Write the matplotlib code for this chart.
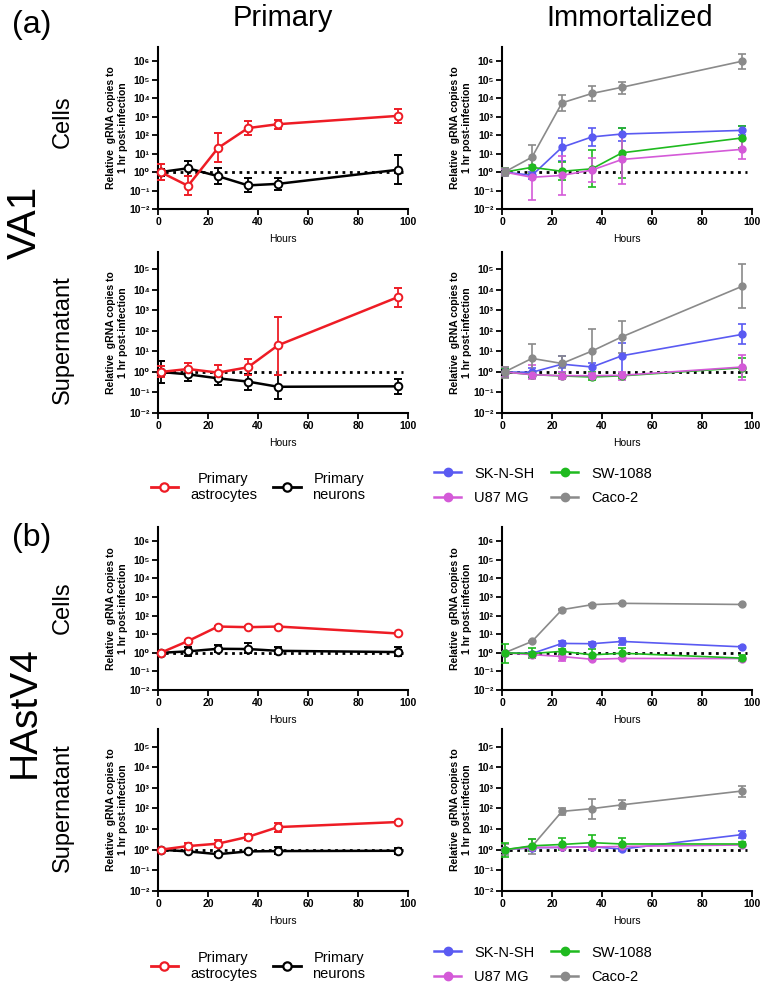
import matplotlib
matplotlib.use("Agg")
import matplotlib.pyplot as plt
from matplotlib.lines import Line2D
from matplotlib.ticker import NullLocator

plt.rcParams['font.family'] = ['Liberation Sans', 'DejaVu Sans']

# time points (hours post-infection)
hours = [1, 12, 24, 36, 48, 96]

# ---- VA1, cells, primary
va1_cell_astro = [1.0, 0.18, 20, 240, 390, 1100]
va1_cell_astro_lo = [0.35, 0.055, 3.3, 100, 220, 450]
va1_cell_astro_hi = [2.7, 0.6, 130, 550, 700, 2700]
va1_cell_neuro = [1.0, 1.6, 0.6, 0.19, 0.23, 1.33]
va1_cell_neuro_lo = [0.6, 0.6, 0.23, 0.08, 0.11, 0.22]
va1_cell_neuro_hi = [1.5, 4.2, 1.7, 0.5, 0.48, 8.5]

# ---- VA1, cells, immortalized
va1_cell_sknsh = [1.0, 0.66, 22, 80, 115, 180]
va1_cell_sknsh_lo = [0.75, 0.4, 4, 25, 50, 100]
va1_cell_sknsh_hi = [1.4, 1.0, 70, 250, 240, 330]
va1_cell_sw = [1.0, 1.8, 1.1, 1.5, 11, 70]
va1_cell_sw_lo = [0.7, 0.8, 0.35, 0.16, 0.45, 20]
va1_cell_sw_hi = [1.6, 5, 3.5, 15, 250, 330]
va1_cell_u87 = [1.0, 0.52, 0.66, 1.28, 4.8, 17]
va1_cell_u87_lo = [0.7, 0.03, 0.06, 0.28, 0.22, 5]
va1_cell_u87_hi = [1.4, 2.5, 7, 6, 100, 60]
va1_cell_caco = [1.0, 6.4, 5600, 18000, 39000, 1e6]
va1_cell_caco_lo = [0.6, 1.5, 2000, 7000, 17000, 4e5]
va1_cell_caco_hi = [1.7, 30, 14000, 45000, 75000, 2.5e6]

# ---- VA1, supernatant, primary
va1_sup_astro = [1.0, 1.4, 0.93, 1.7, 20, 4500]
va1_sup_astro_lo = [0.55, 0.8, 0.45, 0.7, 0.7, 1500]
va1_sup_astro_hi = [2.0, 2.7, 2.3, 4.2, 480, 13000]
va1_sup_neuro = [1.0, 0.77, 0.49, 0.34, 0.19, 0.2]
va1_sup_neuro_lo = [0.3, 0.37, 0.22, 0.13, 0.05, 0.08]
va1_sup_neuro_hi = [3.5, 1.5, 1.0, 0.8, 0.7, 0.45]

# ---- VA1, supernatant, immortalized
va1_sup_sknsh = [1.0, 0.97, 2.4, 1.75, 6.2, 68]
va1_sup_sknsh_lo = [0.6, 0.5, 1.0, 0.7, 0.8, 22]
va1_sup_sknsh_hi = [1.6, 1.5, 6, 2.8, 25, 230]
va1_sup_sw = [1.0, 0.74, 0.64, 0.57, 0.65, 1.6]
va1_sup_sw_lo = [0.6, 0.55, 0.5, 0.4, 0.5, 0.55]
va1_sup_sw_hi = [1.6, 1.0, 0.85, 1.0, 0.85, 5]
va1_sup_u87 = [1.0, 0.74, 0.66, 0.66, 0.69, 1.75]
va1_sup_u87_lo = [0.6, 0.45, 0.45, 0.5, 0.42, 0.42]
va1_sup_u87_hi = [1.8, 2.3, 1.0, 0.9, 1.0, 6.5]
va1_sup_caco = [1.0, 4.6, 2.6, 10.5, 52, 15000]
va1_sup_caco_lo = [0.5, 1.0, 1.5, 0.6, 8, 1300]
va1_sup_caco_hi = [1.8, 24, 6, 120, 320, 180000]

# ---- HAstV4, cells, primary
hv4_cell_astro = [1.0, 4.3, 26, 24, 26, 11]
hv4_cell_astro_lo = [0.9, 3.8, 23, 21, 23, 10]
hv4_cell_astro_hi = [1.1, 4.9, 29, 27, 29, 12]
hv4_cell_neuro = [1.0, 1.2, 1.65, 1.6, 1.28, 1.1]
hv4_cell_neuro_lo = [0.9, 0.7, 1.1, 1.0, 0.9, 0.7]
hv4_cell_neuro_hi = [1.1, 2.0, 2.5, 3.2, 2.0, 2.0]

# ---- HAstV4, cells, immortalized
hv4_cell_sknsh = [1.0, 0.92, 3.2, 3.1, 4.1, 2.1]
hv4_cell_sknsh_lo = [0.9, 0.8, 2.4, 2.5, 2.8, 1.9]
hv4_cell_sknsh_hi = [1.1, 1.1, 4.6, 3.8, 6, 2.4]
hv4_cell_sw = [1.0, 0.92, 1.2, 0.78, 0.95, 0.52]
hv4_cell_sw_lo = [0.3, 0.55, 0.8, 0.45, 0.55, 0.35]
hv4_cell_sw_hi = [3.0, 1.9, 1.7, 1.7, 1.9, 0.8]
hv4_cell_u87 = [1.0, 0.8, 0.63, 0.45, 0.5, 0.49]
hv4_cell_u87_lo = [0.9, 0.7, 0.37, 0.4, 0.45, 0.43]
hv4_cell_u87_hi = [1.1, 0.9, 0.85, 0.5, 0.56, 0.55]
hv4_cell_caco = [1.0, 4.1, 210, 390, 460, 400]
hv4_cell_caco_lo = [0.92, 3.8, 195, 360, 425, 370]
hv4_cell_caco_hi = [1.08, 4.4, 225, 420, 495, 430]

# ---- HAstV4, supernatant, primary
hv4_sup_astro = [1.0, 1.5, 1.97, 4.2, 12.5, 22]
hv4_sup_astro_lo = [0.9, 1.05, 1.3, 3.1, 7.5, 20]
hv4_sup_astro_hi = [1.1, 2.2, 2.8, 5.5, 20, 24]
hv4_sup_neuro = [1.0, 0.83, 0.61, 0.83, 0.86, 0.89]
hv4_sup_neuro_lo = [0.95, 0.75, 0.5, 0.72, 0.6, 0.65]
hv4_sup_neuro_hi = [1.05, 0.92, 0.75, 0.95, 1.4, 1.2]

# ---- HAstV4, supernatant, immortalized
hv4_sup_sknsh = [1.0, 1.25, 1.3, 1.4, 1.08, 5.4]
hv4_sup_sknsh_lo = [0.8, 1.0, 1.1, 1.0, 0.9, 3.5]
hv4_sup_sknsh_hi = [1.2, 1.5, 1.5, 2.0, 1.3, 8]
hv4_sup_sw = [1.0, 1.55, 1.8, 2.2, 1.9, 1.9]
hv4_sup_sw_lo = [0.45, 0.9, 1.0, 1.3, 1.1, 1.5]
hv4_sup_sw_hi = [2.2, 3.3, 3.5, 5.2, 3.6, 2.5]
hv4_sup_u87 = [1.0, 1.3, 1.3, 1.35, 1.45, 1.7]
hv4_sup_u87_lo = [0.8, 1.1, 1.1, 1.1, 1.2, 1.5]
hv4_sup_u87_hi = [1.2, 1.5, 1.5, 1.6, 1.7, 1.9]
hv4_sup_caco = [1.0, 1.45, 72, 98, 150, 700]
hv4_sup_caco_lo = [0.55, 0.65, 50, 30, 90, 360]
hv4_sup_caco_hi = [1.8, 3.3, 105, 300, 250, 1200]

RED = '#ee1c25'
BLUE = '#5a5af2'
GREEN = '#1fba1f'
MAGENTA = '#d45ad8'
GRAY = '#8a8a8a'

SUP = str.maketrans('-0123456789', '⁻⁰¹²³⁴⁵⁶⁷⁸⁹')

W, H = 760, 992
fig = plt.figure(figsize=(W / 100, H / 100), dpi=100)


def make_ax(left, top, bottom, width=250):
    return fig.add_axes([left / W, 1 - bottom / H, width / W, (bottom - top) / H])


def style(ax, top_exp, ymax):
    ax.set_yscale('log')
    ax.set_xlim(0, 100)
    ax.set_ylim(1e-2, ymax)
    exps = list(range(-2, top_exp + 1))
    ax.set_yticks([10.0 ** e for e in exps])
    ax.set_yticklabels(['10' + str(e).translate(SUP) for e in exps])
    ax.yaxis.set_minor_locator(NullLocator())
    ax.set_xticks(range(0, 101, 20))
    for s in ('top', 'right'):
        ax.spines[s].set_visible(False)
    for s in ('left', 'bottom'):
        ax.spines[s].set_linewidth(1.5)
    ax.tick_params(width=1.3, length=4, labelsize=7.5, pad=2)
    for lab in ax.get_xticklabels() + ax.get_yticklabels():
        lab.set_fontweight('bold')
    ax.set_xlabel('Hours', fontsize=7.5, labelpad=5)
    ax.set_ylabel('Relative  gRNA copies to\n1 hr post-infection', fontsize=7.5,
                  fontweight='bold', labelpad=1)
    ax.axhline(1, xmin=0, xmax=0.98, color='black', ls=':', lw=2, zorder=1)


def err(v, lo, hi):
    return [[a - b for a, b in zip(v, lo)], [c - a for a, c in zip(v, hi)]]


def primary(ax, v, lo, hi, color):
    ax.errorbar(hours, v, yerr=err(v, lo, hi), color=color, marker='o', mfc='white',
                mec=color, ms=5.5, mew=1.4, lw=1.8, capsize=3, elinewidth=1.3,
                capthick=1.3, clip_on=False, zorder=3)


def immort(ax, v, lo, hi, color):
    ax.errorbar(hours, v, yerr=err(v, lo, hi), color=color, marker='o', mfc=color,
                mec=color, ms=5, lw=1.2, capsize=3, elinewidth=1.2,
                capthick=1.2, clip_on=False, zorder=3)


rows = [(47, 209), (252, 413), (527, 690), (729, 891)]
CELL_MAX = 10 ** 6.77
SUP_MAX = 10 ** 5.85

# row 1: VA1 cells
ax = make_ax(158, *rows[0]); style(ax, 6, CELL_MAX)
primary(ax, va1_cell_neuro, va1_cell_neuro_lo, va1_cell_neuro_hi, 'black')
primary(ax, va1_cell_astro, va1_cell_astro_lo, va1_cell_astro_hi, RED)
ax = make_ax(502, *rows[0]); style(ax, 6, CELL_MAX)
immort(ax, va1_cell_sknsh, va1_cell_sknsh_lo, va1_cell_sknsh_hi, BLUE)
immort(ax, va1_cell_sw, va1_cell_sw_lo, va1_cell_sw_hi, GREEN)
immort(ax, va1_cell_u87, va1_cell_u87_lo, va1_cell_u87_hi, MAGENTA)
immort(ax, va1_cell_caco, va1_cell_caco_lo, va1_cell_caco_hi, GRAY)

# row 2: VA1 supernatant
ax = make_ax(158, *rows[1]); style(ax, 5, SUP_MAX)
primary(ax, va1_sup_neuro, va1_sup_neuro_lo, va1_sup_neuro_hi, 'black')
primary(ax, va1_sup_astro, va1_sup_astro_lo, va1_sup_astro_hi, RED)
ax = make_ax(502, *rows[1]); style(ax, 5, SUP_MAX)
immort(ax, va1_sup_sknsh, va1_sup_sknsh_lo, va1_sup_sknsh_hi, BLUE)
immort(ax, va1_sup_sw, va1_sup_sw_lo, va1_sup_sw_hi, GREEN)
immort(ax, va1_sup_u87, va1_sup_u87_lo, va1_sup_u87_hi, MAGENTA)
immort(ax, va1_sup_caco, va1_sup_caco_lo, va1_sup_caco_hi, GRAY)

# row 3: HAstV4 cells
ax = make_ax(158, *rows[2]); style(ax, 6, CELL_MAX)
primary(ax, hv4_cell_neuro, hv4_cell_neuro_lo, hv4_cell_neuro_hi, 'black')
primary(ax, hv4_cell_astro, hv4_cell_astro_lo, hv4_cell_astro_hi, RED)
ax = make_ax(502, *rows[2]); style(ax, 6, CELL_MAX)
immort(ax, hv4_cell_sknsh, hv4_cell_sknsh_lo, hv4_cell_sknsh_hi, BLUE)
immort(ax, hv4_cell_u87, hv4_cell_u87_lo, hv4_cell_u87_hi, MAGENTA)
immort(ax, hv4_cell_caco, hv4_cell_caco_lo, hv4_cell_caco_hi, GRAY)
immort(ax, hv4_cell_sw, hv4_cell_sw_lo, hv4_cell_sw_hi, GREEN)

# row 4: HAstV4 supernatant
ax = make_ax(158, *rows[3]); style(ax, 5, SUP_MAX)
primary(ax, hv4_sup_neuro, hv4_sup_neuro_lo, hv4_sup_neuro_hi, 'black')
primary(ax, hv4_sup_astro, hv4_sup_astro_lo, hv4_sup_astro_hi, RED)
ax = make_ax(502, *rows[3]); style(ax, 5, SUP_MAX)
immort(ax, hv4_sup_sknsh, hv4_sup_sknsh_lo, hv4_sup_sknsh_hi, BLUE)
immort(ax, hv4_sup_u87, hv4_sup_u87_lo, hv4_sup_u87_hi, MAGENTA)
immort(ax, hv4_sup_caco, hv4_sup_caco_lo, hv4_sup_caco_hi, GRAY)
immort(ax, hv4_sup_sw, hv4_sup_sw_lo, hv4_sup_sw_hi, GREEN)

# legends
prim_handles = [Line2D([], [], color=RED, marker='o', mfc='white', ms=6, mew=1.6, lw=2),
                Line2D([], [], color='black', marker='o', mfc='white', ms=6, mew=1.6, lw=2)]
prim_labels = ['Primary\nastrocytes', 'Primary\nneurons']
imm_handles = [Line2D([], [], color=c, marker='o', ms=6, lw=1.8)
               for c in (BLUE, MAGENTA, GREEN, GRAY)]
imm_labels = ['SK-N-SH', 'U87 MG', 'SW-1088', 'Caco-2']

for y in (487, 966):
    leg = fig.legend(prim_handles, prim_labels, loc='center', bbox_to_anchor=(258 / W, 1 - y / H),
                     ncol=2, frameon=False, fontsize=10.5, handlelength=1.9,
                     handletextpad=0.8, columnspacing=1.1)
    for t in leg.get_texts():
        t.set_multialignment('center')
    fig.legend(imm_handles, imm_labels, loc='center', bbox_to_anchor=(543 / W, 1 - (y - 1) / H),
               ncol=2, frameon=False, fontsize=10.5, handlelength=1.9,
               handletextpad=0.9, columnspacing=1.1, labelspacing=0.75)

# headings and row labels
fig.text(283 / W, 1 - 18 / H, 'Primary', ha='center', va='center', fontsize=21)
fig.text(630 / W, 1 - 18 / H, 'Immortalized', ha='center', va='center', fontsize=21)
fig.text(32 / W, 1 - 25 / H, '(a)', ha='center', va='center', fontsize=23)
fig.text(32 / W, 1 - 538 / H, '(b)', ha='center', va='center', fontsize=23)
fig.text(25 / W, 1 - 222 / H, 'VA1', rotation=90, ha='center', va='center', fontsize=29)
fig.text(25 / W, 1 - 712 / H, 'HAstV4', rotation=90, ha='center', va='center', fontsize=28)
for y, label in ((122, 'Cells'), (340, 'Supernatant'), (608, 'Cells'), (808, 'Supernatant')):
    fig.text(63 / W, 1 - y / H, label, rotation=90, ha='center', va='center', fontsize=17)

fig.savefig('out.png', dpi=100)
